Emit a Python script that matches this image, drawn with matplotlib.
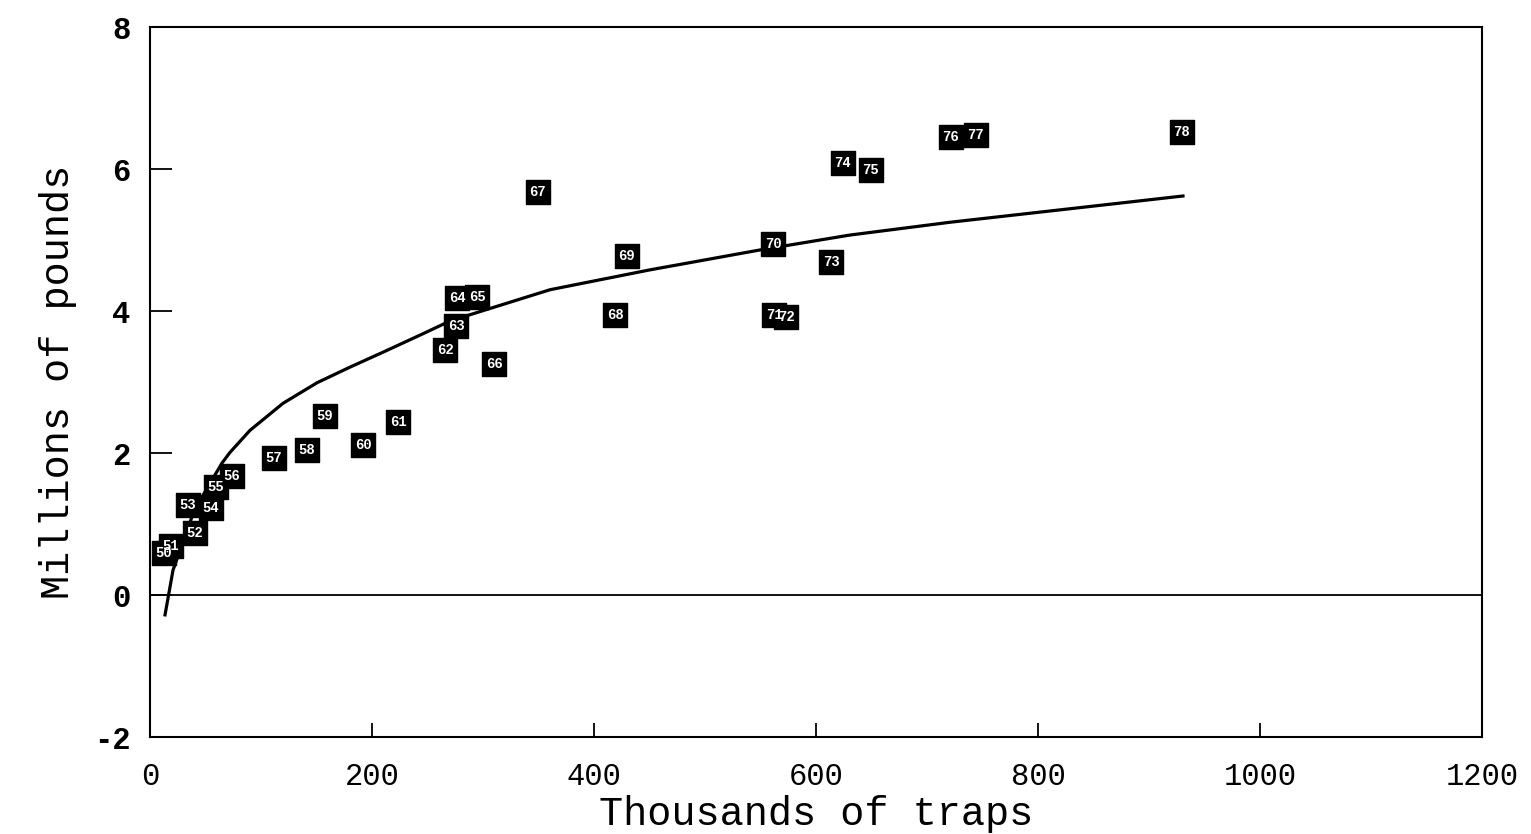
import numpy as np
import matplotlib.pyplot as plt

# Catch vs. effort: one boxed label per season
traps = [12.6, 18.9, 40.5, 34.2, 55.0, 59.5, 73.9, 111.7, 141.4, 157.7,
         191.9, 223.4, 265.8, 275.7, 276.6, 294.6, 309.9, 349.5, 418.9, 429.7,
         561.3, 562.2, 573.0, 613.5, 624.3, 649.5, 721.6, 744.1, 929.7]
pounds = [0.59, 0.69, 0.87, 1.27, 1.23, 1.52, 1.68, 1.93, 2.04, 2.52,
          2.11, 2.44, 3.45, 3.79, 4.18, 4.20, 3.25, 5.68, 3.94, 4.77,
          4.94, 3.94, 3.92, 4.69, 6.08, 5.99, 6.45, 6.48, 6.52]
labels = ['50', '51', '52', '53', '54', '55', '56', '57', '58', '59',
          '60', '61', '62', '63', '64', '65', '66', '67', '68', '69',
          '70', '71', '72', '73', '74', '75', '76', '77', '78']

# fitted curve, read point by point
fit_x = [13.5, 20.7, 40.0, 64.9, 72.1, 90.1, 119.8, 150.5, 180.2, 209.9,
         245.9, 270.3, 360.4, 450.5, 549.5, 630.6, 720.7, 930.6]
fit_y = [-0.28, 0.35, 1.20, 1.86, 2.01, 2.32, 2.70, 2.99, 3.21, 3.42,
         3.68, 3.86, 4.30, 4.58, 4.86, 5.07, 5.25, 5.62]

xticks = [0, 200, 400, 600, 800, 1000, 1200]
yticks = [-2, 0, 2, 4, 6, 8]

fig = plt.figure(figsize=(15.31, 8.34), dpi=100)
ax = fig.add_axes([0.098, 0.1163, 0.870, 0.8513])

ax.axhline(0, color='black', lw=1.3, zorder=1)
ax.plot(fit_x, fit_y, color='black', lw=2.3, zorder=2)

ax.scatter(traps, pounds, marker='s', s=17**2, color='black', zorder=3)
for x, y, lab in zip(traps, pounds, labels):
    ax.text(x, y, lab, color='white', fontsize=10, fontweight='bold',
            family='Liberation Mono', ha='center', va='center', zorder=4)

ax.set_xlim(0, 1200)
ax.set_ylim(-2, 8)
ax.set_xticks(xticks)
ax.set_yticks(yticks)
ax.set_xticklabels([str(t) for t in xticks], family='Liberation Mono',
                   fontsize=22)
ax.set_yticklabels([str(t) for t in yticks], family='Liberation Mono',
                   fontsize=22, fontweight='bold')
ax.tick_params(axis='y', direction='in', length=16, width=1.3, pad=14)
ax.tick_params(axis='x', direction='in', length=10, width=1.3, pad=18)
for s in ax.spines.values():
    s.set_linewidth(1.5)

ax.set_xlabel('Thousands of traps', family='Liberation Mono', fontsize=29,
              labelpad=2)
ax.set_ylabel('Millions of pounds', family='Liberation Mono', fontsize=29,
              labelpad=12)

fig.savefig('out.png', dpi=100)
